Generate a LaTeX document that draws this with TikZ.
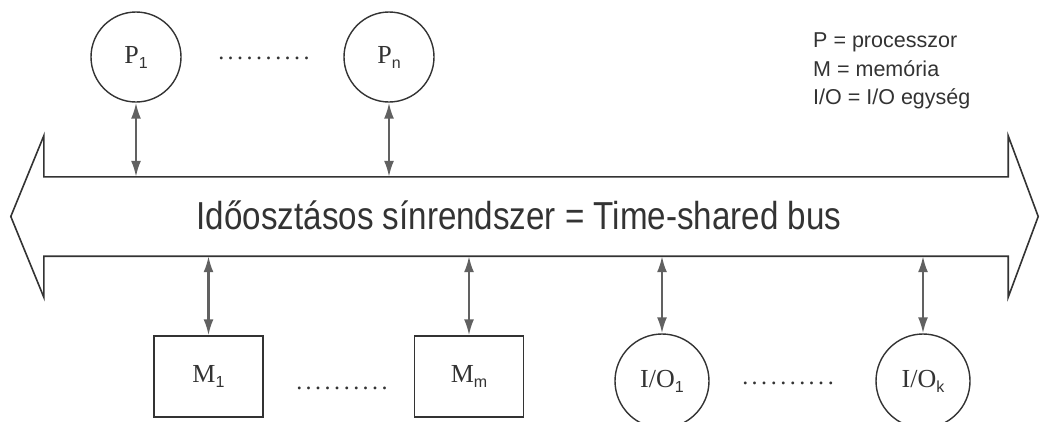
\documentclass[tikz,border=0pt]{standalone}
\usepackage{fontspec}
\setmainfont{Liberation Serif}
\setsansfont{Liberation Sans}
\newfontfamily\busfont[FakeStretch=0.85]{Liberation Sans}
\usetikzlibrary{arrows.meta}
\colorlet{ink}{black!80}
\colorlet{arcol}{black!62}
\tikzset{
  unit/.style={draw=ink, line width=1.4pt, text=ink, inner sep=0pt,
               font=\fontsize{26}{26}\selectfont},
  cnd/.style={unit, circle, minimum size=#1},
  mem/.style={unit, rectangle, minimum width=109pt, minimum height=81pt},
  dots/.style={text=ink, inner sep=0pt, font=\fontsize{24}{24}\selectfont},
  busbody/.style={draw=none, inner sep=0pt, minimum width=964pt, minimum height=79pt},
  bustxt/.style={text=ink, inner sep=0pt, font=\busfont\fontsize{39}{39}\selectfont},
  busline/.style={draw=ink, line width=1.6pt, line join=miter},
  legend/.style={text=ink, inner sep=0pt, align=left,
                 font=\sffamily\fontsize{21.5}{28.5}\selectfont},
  ar/.style={{Latex[length=16pt, width=10pt]}-{Latex[length=16pt, width=10pt]},
             line width=2.2pt, draw=arcol, fill=arcol},
}
\newcommand\sub[2]{#1\raisebox{-5pt}{\sffamily\fontsize{16}{16}\selectfont #2}}
\newcommand\dotrow{\hbox to 95pt{\leaders\hbox to 9.5pt{\hss.\hss}\hfill}}

\begin{document}
\begin{tikzpicture}[x=1pt, y=-1pt]
\useasboundingbox (0,0) rectangle (1040,421);

%% --- bus (double arrow) ---
\node[busbody] (bus) at (526,216.5) {};
\node[bustxt, anchor=base] (bustext) at (519,229.5)
  {Időosztásos sínrendszer = Time-shared bus};
\draw[busline] (bus.north west) -- (bus.north east) -- ++(0,-41)
  -- ([xshift=30pt]bus.east) -- ([yshift=-41pt]bus.south east)
  -- (bus.south east) -- (bus.south west) -- ++(0,41)
  -- ([xshift=-33pt]bus.west) -- ([yshift=41pt]bus.north west) -- cycle;

%% --- processors (top) ---
\node[cnd=90pt] (p1) at (136,57) {\sub{P}{1}};
\node[cnd=90pt] (pn) at (389,57) {\sub{P}{n}};
\node[dots, anchor=base] (pdots) at (264,59) {\dotrow};

\draw[ar] (p1.south) -- (p1.south |- bus.north);
\draw[ar] (pn.south) -- (pn.south |- bus.north);

%% --- memories (bottom left) ---
\node[mem] (m1) at (208.5,376.5) {\sub{M}{1}};
\node[mem] (mm) at (469,376.5) {\sub{M}{m}};
\node[dots, anchor=base] (mdots) at (342,389) {\dotrow};

\draw[ar] (bus.south -| m1.north) -- (m1.north);
\draw[ar] (bus.south -| mm.north) -- (mm.north);

%% --- I/O units (bottom right) ---
\node[cnd=94pt] (io1) at (662,381) {\sub{I/O}{1}};
\node[cnd=94pt] (iok) at (923,381) {\sub{I/O}{k}};
\node[dots, anchor=base] (iodots) at (788,384) {\dotrow};

\draw[ar] (bus.south -| io1.north) -- (io1.north);
\draw[ar] (bus.south -| iok.north) -- (iok.north);

%% --- legend ---
\node[legend, anchor=north west] (leg) at (813,33)
  {P = processzor\\M = memória\\I/O = I/O egység};

\end{tikzpicture}
\end{document}
